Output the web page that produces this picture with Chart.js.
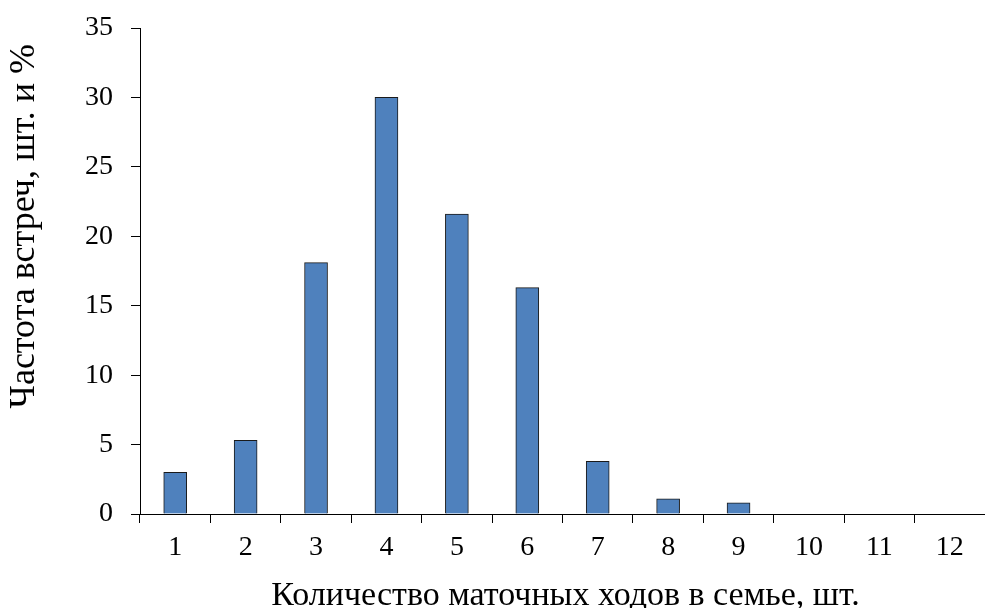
<!DOCTYPE html>
<html>
<head>
<meta charset="utf-8">
<script src="https://cdn.jsdelivr.net/npm/chart.js@4.4.0/dist/chart.umd.min.js"></script>
<style>
html,body{margin:0;padding:0;background:#fff;}
#wrap{width:985px;height:608px;position:relative;}
</style>
</head>
<body>
<div id="wrap"><canvas id="c" width="985" height="608"></canvas></div>
<script>
const categories = ["1","2","3","4","5","6","7","8","9","10","11","12"];
const frequency = [3.0, 5.3, 18.1, 30.0, 21.6, 16.3, 3.8, 1.1, 0.8, 0, 0, 0];
const yTicks = [0, 5, 10, 15, 20, 25, 30, 35];
const xTitle = "Количество маточных ходов в семье, шт.";
const yTitle = "Частота встреч, шт. и %";

const FONT = "'Liberation Serif', 'Times New Roman', serif";

const titlePlugin = {
  id: 'axisTitles',
  afterDraw(chart) {
    const ctx = chart.ctx;
    const a = chart.chartArea;
    ctx.save();
    ctx.fillStyle = '#000';
    ctx.textAlign = 'center';
    ctx.textBaseline = 'alphabetic';
    ctx.font = '34px ' + FONT;
    ctx.fillText(xTitle, (a.left + a.right) / 2 + 3, 605);
    ctx.font = '36px ' + FONT;
    ctx.translate(34, a.top + (a.bottom - a.top) * 0.408);
    ctx.rotate(-Math.PI / 2);
    ctx.fillText(yTitle, 0, 0);
    ctx.restore();
  }
};

new Chart(document.getElementById('c'), {
  type: 'bar',
  data: {
    labels: categories,
    datasets: [{
      data: frequency,
      backgroundColor: '#4F81BD',
      borderColor: '#1a1a1a',
      borderWidth: 1,
      barThickness: 23
    }]
  },
  options: {
    responsive: false,
    animation: false,
    devicePixelRatio: 1,
    layout: { padding: { top: 28, right: 0, left: 0, bottom: 0 } },
    plugins: { legend: { display: false }, tooltip: { enabled: false } },
    scales: {
      x: {
        grid: { display: true, drawOnChartArea: false, drawTicks: true, tickLength: 9, color: '#000', offset: true },
        border: { display: true, color: '#000', width: 1 },
        ticks: { color: '#000', font: { family: FONT, size: 28 }, padding: 8, maxRotation: 0 },
        afterFit(s) { s.height = 94; s.paddingLeft = 0; s.paddingRight = 0; }
      },
      y: {
        min: 0, max: 35,
        afterBuildTicks(s) { s.ticks = yTicks.map(v => ({ value: v })); },
        grid: { display: true, drawOnChartArea: false, drawTicks: true, tickLength: 9, color: '#000' },
        border: { display: true, color: '#000', width: 1 },
        ticks: { color: '#000', font: { family: FONT, size: 28 }, padding: 18 },
        afterFit(s) { s.width = 140; s.paddingTop = 0; s.paddingBottom = 0; }
      }
    }
  },
  plugins: [titlePlugin]
});
</script>
</body>
</html>
